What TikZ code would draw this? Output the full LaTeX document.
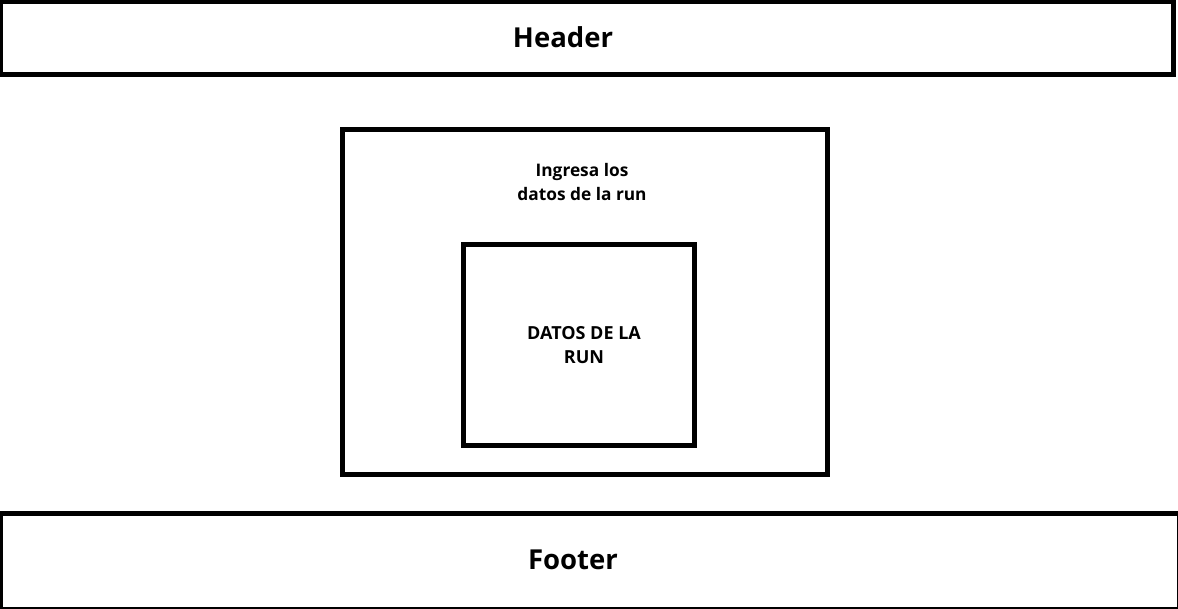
\documentclass[tikz,border=0pt]{standalone}
\usepackage{fontspec}
\setmainfont{Open Sans}
\begin{document}
\begin{tikzpicture}[x=1pt,y=-1pt,
    box/.style={draw, line width=5pt, inner sep=0pt, outer sep=0pt},
    bigtext/.style={font=\bfseries\fontsize{27.5}{33}\selectfont},
    smalltext/.style={font=\bfseries\fontsize{17.3}{24.5}\selectfont, align=center}]
\useasboundingbox (0,0) rectangle (1178,608);
% header
\node[box, minimum width=1173pt, minimum height=73pt] (header) at (587,37.5) {};
\node[bigtext] (headertext) at (563,37) {Header};
% main content
\node[box, minimum width=485.5pt, minimum height=345pt] (main) at (584.75,301.5) {};
\node[smalltext] (maintext) at (582,182) {Ingresa los\\datos de la run};
% inner panel
\node[box, minimum width=230.5pt, minimum height=201.5pt] (panel) at (578.75,344.75) {};
\node[smalltext, font=\bfseries\fontsize{18}{23.5}\selectfont] (paneltext) at (584,345) {DATOS DE LA\\RUN};
% footer
\node[box, minimum width=1179pt, minimum height=95.5pt] (footer) at (590,561.25) {};
\node[bigtext] (footertext) at (573,560) {Footer};
\end{tikzpicture}
\end{document}
